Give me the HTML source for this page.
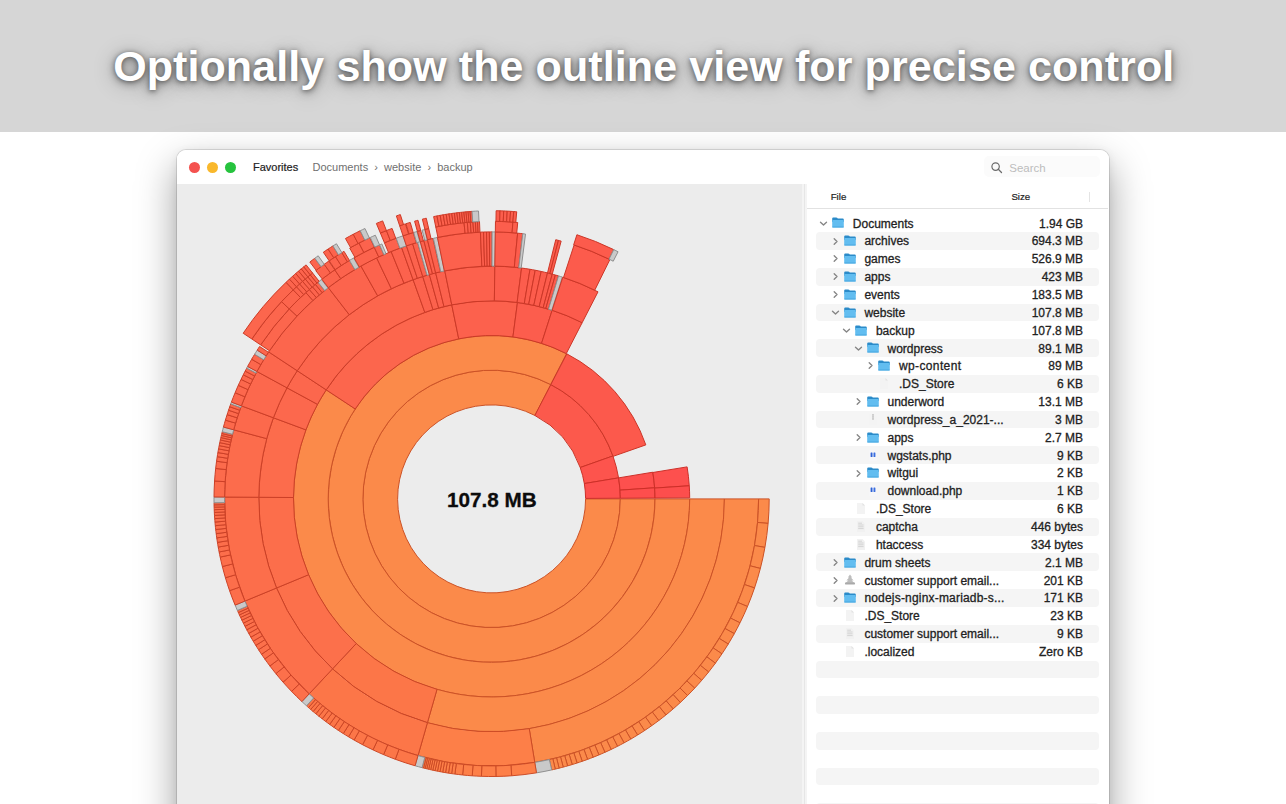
<!DOCTYPE html>
<html><head><meta charset="utf-8"><title>Outline view</title>
<style>
*{box-sizing:border-box}
html,body{margin:0;padding:0}
body{width:1286px;height:804px;overflow:hidden;background:#fff;position:relative;font-family:"Liberation Sans",sans-serif}
.band{position:absolute;left:0;top:0;width:1286px;height:131.6px;background:#d6d6d6}
.headline{position:absolute;left:0;top:0;width:1286px;height:131px;text-align:center;font-weight:bold;font-size:43px;line-height:43px;color:#fff;white-space:nowrap;padding-top:45.3px;padding-left:1.5px;letter-spacing:.1px;text-shadow:0 1px 4px rgba(0,0,0,.38),0 2px 10px rgba(0,0,0,.45),0 3px 22px rgba(0,0,0,.3)}
.win{position:absolute;left:177px;top:150px;width:931.5px;height:700px;border-radius:9px;background:#fff;overflow:hidden;box-shadow:0 0 0 1px rgba(0,0,0,.11),0 2px 10px rgba(0,0,0,.08),0 17px 38px 2px rgba(0,0,0,.35)}
.tb{position:absolute;left:0;top:0;right:0;height:34px;background:#fff}
.tl{position:absolute;top:11.5px;width:11px;height:11px;border-radius:50%}
.t1{left:11.7px;background:#f4524f}.t2{left:29.6px;background:#f9b82c}.t3{left:47.5px;background:#26c33e}
.tbt{position:absolute;top:10px;font-size:11px;line-height:14px;white-space:nowrap}
.chart{position:absolute;left:0;top:34px;width:625px;bottom:0;background:#ececec}
.split{position:absolute;left:625px;top:34px;width:4.8px;bottom:0;background:#f4f4f4}
.split i{position:absolute;left:2.4px;top:0;bottom:0;width:1px;background:#e6e6e6}
.side{position:absolute;left:629.8px;top:34px;right:0;bottom:0;background:#fff}
.sun{position:absolute;left:0;top:0}
.center{position:absolute;left:391.9px;top:487.8px;width:200px;text-align:center;font-weight:bold;font-size:20.7px;line-height:24px;color:#0c0c0c;-webkit-text-stroke:.3px #0c0c0c}
.hdr{position:absolute;left:807px;top:184px;width:301px;height:25px;border-bottom:1px solid #e2e2e2}
.hdr span{position:absolute;top:5.7px;font-size:9.7px;line-height:13px;color:#222;-webkit-text-stroke:.2px #222}
.row{position:absolute;left:816px;width:283px;height:17.85px;border-radius:4px}
.row.alt{background:#f5f5f5}
.row .n{position:absolute;top:2.3px;font-size:12px;line-height:14px;color:#222;white-space:nowrap;-webkit-text-stroke:.3px #222}
.row .s{position:absolute;right:16px;top:2.3px;font-size:12px;line-height:14px;color:#222;white-space:nowrap;-webkit-text-stroke:.3px #222}
.ic{position:absolute;top:3.2px;width:12px;height:11px}
.ch{position:absolute;top:4.4px;width:9px;height:9px}
</style></head><body>
<div class="band"></div>
<div class="headline">Optionally show the outline view for precise control</div>
<div class="win">
 <div class="chart"></div>
 <div class="split"><i></i></div>
 <div class="side"></div>
 <div class="tb">
  <div class="tl t1"></div><div class="tl t2"></div><div class="tl t3"></div>
  <div class="tbt" style="left:76px;color:#222;-webkit-text-stroke:.2px #222">Favorites</div>
  <div class="tbt" style="left:135.5px;color:#6f6f6f">Documents&nbsp; ›&nbsp; website&nbsp; ›&nbsp; backup</div>
  <div style="position:absolute;left:807px;top:6px;width:116px;height:21px;border-radius:5px;background:#fbfbfb"></div><svg style="position:absolute;left:813px;top:10.5px;width:14px;height:14px" viewBox="0 0 14 14"><circle cx="5.6" cy="5.6" r="3.7" fill="none" stroke="#6b6b6b" stroke-width="1.2"/><path d="M8.3 8.3L11.5 11.5" stroke="#6b6b6b" stroke-width="1.3" stroke-linecap="round"/></svg><div class="tbt" style="left:832.3px;top:10.5px;color:#bdbdbd;font-size:11.5px">Search</div>
 </div>
</div>
<svg class="sun" width="1286" height="804" viewBox="0 0 1286 804"><g stroke-width="1" stroke-linejoin="round"><path d="M585.60 498.90L620.30 498.90A128.70 128.70 0 1 1 550.83 384.64L534.86 415.45A94.00 94.00 0 1 0 585.60 498.90Z" fill="#fb8a4a" stroke="#cc5226"/><path d="M534.86 415.45L550.83 384.64A128.70 128.70 0 0 1 612.92 455.94L580.21 467.52A94.00 94.00 0 0 0 534.86 415.45Z" fill="#fc594c" stroke="#cc3527"/><path d="M580.21 467.52L612.92 455.94A128.70 128.70 0 0 1 618.57 477.88L584.34 483.55A94.00 94.00 0 0 0 580.21 467.52Z" fill="#fd544d" stroke="#cd3227"/><path d="M584.34 483.55L618.57 477.88A128.70 128.70 0 0 1 620.30 498.23L585.60 498.41A94.00 94.00 0 0 0 584.34 483.55Z" fill="#fd504e" stroke="#cd2f28"/><path d="M620.30 498.90L655.00 498.90A163.40 163.40 0 1 1 566.54 353.70L550.63 384.53A128.70 128.70 0 1 0 620.30 498.90Z" fill="#fb8a4a" stroke="#cc5226"/><path d="M550.83 384.64L566.80 353.83A163.40 163.40 0 0 1 645.82 444.89L613.07 456.36A128.70 128.70 0 0 0 550.83 384.64Z" fill="#fc594c" stroke="#cc3527"/><path d="M618.57 477.88L652.81 472.21A163.40 163.40 0 0 1 654.62 487.79L620.00 490.15A128.70 128.70 0 0 0 618.57 477.88Z" fill="#fd504e" stroke="#cd2f28"/><path d="M620.00 490.15L654.62 487.79A163.40 163.40 0 0 1 655.00 498.04L620.30 498.23A128.70 128.70 0 0 0 620.00 490.15Z" fill="#fd4e4d" stroke="#cd2e27"/><path d="M655.00 498.90L689.70 498.90A198.10 198.10 0 1 1 326.22 389.85L355.19 408.95A163.40 163.40 0 1 0 655.00 498.90Z" fill="#fb8a4a" stroke="#cc5226"/><path d="M355.19 408.95L326.22 389.85A198.10 198.10 0 0 1 451.77 304.85L458.74 338.84A163.40 163.40 0 0 0 355.19 408.95Z" fill="#fc664d" stroke="#cc3c27"/><path d="M458.74 338.84L451.77 304.85A198.10 198.10 0 0 1 517.46 302.49L512.93 336.90A163.40 163.40 0 0 0 458.74 338.84Z" fill="#fc614d" stroke="#cc3927"/><path d="M512.93 336.90L517.46 302.49A198.10 198.10 0 0 1 552.16 310.28L541.55 343.32A163.40 163.40 0 0 0 512.93 336.90Z" fill="#fc5d4d" stroke="#cc3727"/><path d="M541.55 343.32L552.16 310.28A198.10 198.10 0 0 1 582.15 322.71L566.29 353.57A163.40 163.40 0 0 0 541.55 343.32Z" fill="#fc5b4c" stroke="#cc3627"/><path d="M652.85 472.49L687.10 466.89A198.10 198.10 0 0 1 689.26 485.77L654.64 488.07A163.40 163.40 0 0 0 652.85 472.49Z" fill="#fd504e" stroke="#cd2f28"/><path d="M654.64 488.07L689.26 485.77A198.10 198.10 0 0 1 689.70 497.86L655.00 498.04A163.40 163.40 0 0 0 654.64 488.07Z" fill="#fd4e4d" stroke="#cd2e27"/><path d="M689.70 498.90L724.40 498.90A232.80 232.80 0 0 1 427.43 722.68L437.00 689.33A198.10 198.10 0 0 0 689.70 498.90Z" fill="#fb8a4a" stroke="#cc5226"/><path d="M437.00 689.33L427.43 722.68A232.80 232.80 0 0 1 332.53 668.88L356.24 643.55A198.10 198.10 0 0 0 437.00 689.33Z" fill="#fc7648" stroke="#cc4625"/><path d="M356.24 643.55L332.53 668.88A232.80 232.80 0 0 1 276.52 587.99L308.58 574.71A198.10 198.10 0 0 0 356.24 643.55Z" fill="#fc704b" stroke="#cc4226"/><path d="M308.58 574.71L276.52 587.99A232.80 232.80 0 0 1 258.81 497.27L293.50 497.52A198.10 198.10 0 0 0 308.58 574.71Z" fill="#fc6e4b" stroke="#cc4126"/><path d="M293.50 497.52L258.81 497.27A232.80 232.80 0 0 1 273.40 417.75L305.92 429.85A198.10 198.10 0 0 0 293.50 497.52Z" fill="#fc6c4c" stroke="#cc4027"/><path d="M305.92 429.85L273.40 417.75A232.80 232.80 0 0 1 287.01 387.82L317.51 404.37A198.10 198.10 0 0 0 305.92 429.85Z" fill="#fc684d" stroke="#cc3e27"/><path d="M317.51 404.37L287.01 387.82A232.80 232.80 0 0 1 297.25 370.75L326.22 389.85A198.10 198.10 0 0 0 317.51 404.37Z" fill="#fc674d" stroke="#cc3d27"/><path d="M326.22 389.85L297.25 370.75A232.80 232.80 0 0 1 413.12 279.73L424.82 312.39A198.10 198.10 0 0 0 326.22 389.85Z" fill="#fc664d" stroke="#cc3c27"/><path d="M424.82 312.39L413.12 279.73A232.80 232.80 0 0 1 422.76 276.51L433.02 309.66A198.10 198.10 0 0 0 424.82 312.39Z" fill="#fc624d" stroke="#cc3a27"/><path d="M433.02 309.66L422.76 276.51A232.80 232.80 0 0 1 429.39 274.57L438.66 308.00A198.10 198.10 0 0 0 433.02 309.66Z" fill="#fc624d" stroke="#cc3a27"/><path d="M438.66 308.00L429.39 274.57A232.80 232.80 0 0 1 435.67 272.92L444.01 306.60A198.10 198.10 0 0 0 438.66 308.00Z" fill="#fc614d" stroke="#cc3927"/><path d="M444.01 306.60L435.67 272.92A232.80 232.80 0 0 1 444.79 270.85L451.77 304.85A198.10 198.10 0 0 0 444.01 306.60Z" fill="#fc614d" stroke="#cc3927"/><path d="M451.77 304.85L444.79 270.85A232.80 232.80 0 0 1 494.85 266.12L494.37 300.82A198.10 198.10 0 0 0 451.77 304.85Z" fill="#fc614d" stroke="#cc3927"/><path d="M494.37 300.82L494.85 266.12A232.80 232.80 0 0 1 521.58 268.04L517.11 302.45A198.10 198.10 0 0 0 494.37 300.82Z" fill="#fc5e4d" stroke="#cc3827"/><path d="M517.11 302.45L521.58 268.04A232.80 232.80 0 0 1 530.02 269.29L524.30 303.52A198.10 198.10 0 0 0 517.11 302.45Z" fill="#fc5d4d" stroke="#cc3727"/><path d="M524.30 303.52L530.02 269.29A232.80 232.80 0 0 1 535.22 270.22L528.72 304.31A198.10 198.10 0 0 0 524.30 303.52Z" fill="#fc5d4c" stroke="#cc3727"/><path d="M528.72 304.31L535.22 270.22A232.80 232.80 0 0 1 541.19 271.44L533.80 305.35A198.10 198.10 0 0 0 528.72 304.31Z" fill="#fc5c4c" stroke="#cc3627"/><path d="M533.80 305.35L541.19 271.44A232.80 232.80 0 0 1 547.53 272.92L539.19 306.60A198.10 198.10 0 0 0 533.80 305.35Z" fill="#fc5c4c" stroke="#cc3627"/><path d="M539.19 306.60L547.53 272.92A232.80 232.80 0 0 1 552.25 274.14L543.21 307.64A198.10 198.10 0 0 0 539.19 306.60Z" fill="#fc5c4c" stroke="#cc3627"/><path d="M543.21 307.64L552.25 274.14A232.80 232.80 0 0 1 555.38 275.01L545.87 308.38A198.10 198.10 0 0 0 543.21 307.64Z" fill="#fc5c4c" stroke="#cc3627"/><path d="M545.87 308.38L555.38 275.01A232.80 232.80 0 0 1 558.50 275.92L548.53 309.16A198.10 198.10 0 0 0 545.87 308.38Z" fill="#fc5b4c" stroke="#cc3627"/><path d="M548.53 309.16L558.50 275.92A232.80 232.80 0 0 1 562.38 277.12L551.83 310.18A198.10 198.10 0 0 0 548.53 309.16Z" fill="#c9c9c9" stroke="#8f8f8f"/><path d="M552.16 310.28L562.77 277.24A232.80 232.80 0 0 1 598.01 291.84L582.15 322.71A198.10 198.10 0 0 0 552.16 310.28Z" fill="#fc5b4c" stroke="#cc3627"/><path d="M724.40 498.90L758.60 498.90A267.00 267.00 0 0 1 534.75 762.39L529.22 728.64A232.80 232.80 0 0 0 724.40 498.90Z" fill="#fb8a4a" stroke="#cc5226"/><path d="M529.22 728.64L534.75 762.39A267.00 267.00 0 0 1 418.00 755.56L427.43 722.68A232.80 232.80 0 0 0 529.22 728.64Z" fill="#fd7f48" stroke="#cd4b25"/><path d="M427.43 722.68L418.00 755.56A267.00 267.00 0 0 1 309.17 693.85L332.53 668.88A232.80 232.80 0 0 0 427.43 722.68Z" fill="#fc7648" stroke="#cc4625"/><path d="M332.53 668.88L309.17 693.85A267.00 267.00 0 0 1 244.92 601.08L276.52 587.99A232.80 232.80 0 0 0 332.53 668.88Z" fill="#fc704b" stroke="#cc4226"/><path d="M276.52 587.99L244.92 601.08A267.00 267.00 0 0 1 224.61 497.04L258.81 497.27A232.80 232.80 0 0 0 276.52 587.99Z" fill="#fc6e4b" stroke="#cc4126"/><path d="M258.81 497.27L224.61 497.04A267.00 267.00 0 0 1 233.70 429.80L266.73 438.65A232.80 232.80 0 0 0 258.81 497.27Z" fill="#fc6c4c" stroke="#cc4027"/><path d="M266.73 438.65L233.70 429.80A267.00 267.00 0 0 1 241.35 405.83L273.40 417.75A232.80 232.80 0 0 0 266.73 438.65Z" fill="#fc694c" stroke="#cc3e27"/><path d="M273.40 417.75L241.35 405.83A267.00 267.00 0 0 1 256.96 371.50L287.01 387.82A232.80 232.80 0 0 0 273.40 417.75Z" fill="#fc684d" stroke="#cc3e27"/><path d="M287.01 387.82L256.96 371.50A267.00 267.00 0 0 1 268.70 351.92L297.25 370.75A232.80 232.80 0 0 0 287.01 387.82Z" fill="#fc674d" stroke="#cc3d27"/><path d="M297.25 370.75L268.70 351.92A267.00 267.00 0 0 1 328.32 287.64L349.24 314.70A232.80 232.80 0 0 0 297.25 370.75Z" fill="#fc664d" stroke="#cc3c27"/><path d="M349.24 314.70L328.32 287.64A267.00 267.00 0 0 1 360.93 266.06L377.67 295.88A232.80 232.80 0 0 0 349.24 314.70Z" fill="#fc644d" stroke="#cc3b27"/><path d="M377.67 295.88L360.93 266.06A267.00 267.00 0 0 1 376.65 257.91L391.38 288.78A232.80 232.80 0 0 0 377.67 295.88Z" fill="#fc634d" stroke="#cc3b27"/><path d="M391.38 288.78L376.65 257.91A267.00 267.00 0 0 1 391.15 251.52L404.01 283.20A232.80 232.80 0 0 0 391.38 288.78Z" fill="#fc624d" stroke="#cc3a27"/><path d="M404.01 283.20L391.15 251.52A267.00 267.00 0 0 1 401.60 247.53L413.12 279.73A232.80 232.80 0 0 0 404.01 283.20Z" fill="#fc624d" stroke="#cc3a27"/><path d="M413.12 279.73L401.60 247.53A267.00 267.00 0 0 1 406.44 245.85L417.35 278.26A232.80 232.80 0 0 0 413.12 279.73Z" fill="#fc624d" stroke="#cc3a27"/><path d="M417.35 278.26L406.44 245.85A267.00 267.00 0 0 1 412.65 243.84L422.76 276.51A232.80 232.80 0 0 0 417.35 278.26Z" fill="#fc624d" stroke="#cc3a27"/><path d="M422.76 276.51L412.65 243.84A267.00 267.00 0 0 1 417.56 242.37L427.04 275.23A232.80 232.80 0 0 0 422.76 276.51Z" fill="#fc624d" stroke="#cc3a27"/><path d="M427.04 275.23L417.56 242.37A267.00 267.00 0 0 1 420.25 241.61L429.39 274.57A232.80 232.80 0 0 0 427.04 275.23Z" fill="#c9c9c9" stroke="#8f8f8f"/><path d="M429.39 274.57L420.25 241.61A267.00 267.00 0 0 1 423.85 240.64L432.53 273.72A232.80 232.80 0 0 0 429.39 274.57Z" fill="#fc614d" stroke="#cc3927"/><path d="M432.53 273.72L423.85 240.64A267.00 267.00 0 0 1 427.46 239.72L435.67 272.92A232.80 232.80 0 0 0 432.53 273.72Z" fill="#fc614d" stroke="#cc3927"/><path d="M435.67 272.92L427.46 239.72A267.00 267.00 0 0 1 432.90 238.43L440.42 271.80A232.80 232.80 0 0 0 435.67 272.92Z" fill="#fc614d" stroke="#cc3927"/><path d="M440.82 271.71L433.36 238.33A267.00 267.00 0 0 1 437.46 237.45L444.39 270.94A232.80 232.80 0 0 0 440.82 271.71Z" fill="#c9c9c9" stroke="#8f8f8f"/><path d="M444.39 270.94L437.46 237.45A267.00 267.00 0 0 1 480.42 232.13L481.85 266.30A232.80 232.80 0 0 0 444.39 270.94Z" fill="#fc614d" stroke="#cc3927"/><path d="M481.85 266.30L480.42 232.13A267.00 267.00 0 0 1 483.56 232.02L484.59 266.21A232.80 232.80 0 0 0 481.85 266.30Z" fill="#fc5f4d" stroke="#cc3827"/><path d="M484.59 266.21L483.56 232.02A267.00 267.00 0 0 1 486.54 231.95L487.19 266.14A232.80 232.80 0 0 0 484.59 266.21Z" fill="#fc5f4d" stroke="#cc3827"/><path d="M487.19 266.14L486.54 231.95A267.00 267.00 0 0 1 489.37 231.91L489.66 266.11A232.80 232.80 0 0 0 487.19 266.14Z" fill="#fc5f4d" stroke="#cc3827"/><path d="M489.66 266.11L489.37 231.91A267.00 267.00 0 0 1 492.07 231.90L492.01 266.10A232.80 232.80 0 0 0 489.66 266.11Z" fill="#fc5f4d" stroke="#cc3827"/><path d="M492.01 266.10L492.07 231.90A267.00 267.00 0 0 1 495.33 231.93L494.85 266.12A232.80 232.80 0 0 0 492.01 266.10Z" fill="#c9c9c9" stroke="#8f8f8f"/><path d="M494.85 266.12L495.33 231.93A267.00 267.00 0 0 1 517.65 233.17L514.32 267.21A232.80 232.80 0 0 0 494.85 266.12Z" fill="#fc5e4d" stroke="#cc3827"/><path d="M514.32 267.21L517.65 233.17A267.00 267.00 0 0 1 522.75 233.72L518.76 267.69A232.80 232.80 0 0 0 514.32 267.21Z" fill="#fc5d4d" stroke="#cc3727"/><path d="M518.76 267.69L522.75 233.72A267.00 267.00 0 0 1 525.53 234.06L521.18 267.99A232.80 232.80 0 0 0 518.76 267.69Z" fill="#c9c9c9" stroke="#8f8f8f"/><path d="M547.53 272.92L555.74 239.72A267.00 267.00 0 0 1 558.45 240.40L549.89 273.52A232.80 232.80 0 0 0 547.53 272.92Z" fill="#fc5c4c" stroke="#cc3627"/><path d="M549.89 273.52L558.45 240.40A267.00 267.00 0 0 1 561.15 241.12L552.25 274.14A232.80 232.80 0 0 0 549.89 273.52Z" fill="#fc5c4c" stroke="#cc3627"/><path d="M563.54 277.49L574.11 244.97A267.00 267.00 0 0 1 609.90 259.54L594.75 290.20A232.80 232.80 0 0 0 563.54 277.49Z" fill="#fc5b4c" stroke="#cc3627"/><path d="M758.60 498.90L769.20 498.90A277.60 277.60 0 0 1 768.12 523.38L757.56 522.45A267.00 267.00 0 0 0 758.60 498.90Z" fill="#fb8a4a" stroke="#cc5226"/><path d="M757.56 522.45L768.12 523.38A277.60 277.60 0 0 1 764.93 547.39L754.49 545.54A267.00 267.00 0 0 0 757.56 522.45Z" fill="#fb8a4a" stroke="#cc5226"/><path d="M754.49 545.54L764.93 547.39A277.60 277.60 0 0 1 760.35 568.45L750.08 565.80A267.00 267.00 0 0 0 754.49 545.54Z" fill="#fb8a4a" stroke="#cc5226"/><path d="M750.08 565.80L760.35 568.45A277.60 277.60 0 0 1 754.53 587.95L744.49 584.55A267.00 267.00 0 0 0 750.08 565.80Z" fill="#fb8a4a" stroke="#cc5226"/><path d="M744.49 584.55L754.53 587.95A277.60 277.60 0 0 1 747.49 606.52L737.72 602.41A267.00 267.00 0 0 0 744.49 584.55Z" fill="#fb8a4a" stroke="#cc5226"/><path d="M737.72 602.41L747.49 606.52A277.60 277.60 0 0 1 740.01 622.81L730.53 618.08A267.00 267.00 0 0 0 737.72 602.41Z" fill="#fb8a4a" stroke="#cc5226"/><path d="M730.53 618.08L740.01 622.81A277.60 277.60 0 0 1 734.30 633.65L725.03 628.51A267.00 267.00 0 0 0 730.53 618.08Z" fill="#fb8a4a" stroke="#cc5226"/><path d="M725.03 628.51L734.30 633.65A277.60 277.60 0 0 1 728.26 644.00L719.23 638.45A267.00 267.00 0 0 0 725.03 628.51Z" fill="#fb8a4a" stroke="#cc5226"/><path d="M719.23 638.45L728.26 644.00A277.60 277.60 0 0 1 721.95 653.83L713.15 647.91A267.00 267.00 0 0 0 719.23 638.45Z" fill="#fb8a4a" stroke="#cc5226"/><path d="M713.15 647.91L721.95 653.83A277.60 277.60 0 0 1 715.39 663.16L706.84 656.88A267.00 267.00 0 0 0 713.15 647.91Z" fill="#fb8a4a" stroke="#cc5226"/><path d="M706.84 656.88L715.39 663.16A277.60 277.60 0 0 1 708.63 671.98L700.35 665.37A267.00 267.00 0 0 0 706.84 656.88Z" fill="#fb8a4a" stroke="#cc5226"/><path d="M700.35 665.37L708.63 671.98A277.60 277.60 0 0 1 701.72 680.32L693.70 673.39A267.00 267.00 0 0 0 700.35 665.37Z" fill="#fb8a4a" stroke="#cc5226"/><path d="M693.70 673.39L701.72 680.32A277.60 277.60 0 0 1 694.68 688.16L686.92 680.94A267.00 267.00 0 0 0 693.70 673.39Z" fill="#fb8a4a" stroke="#cc5226"/><path d="M686.92 680.94L694.68 688.16A277.60 277.60 0 0 1 687.55 695.54L680.06 688.03A267.00 267.00 0 0 0 686.92 680.94Z" fill="#fb8a4a" stroke="#cc5226"/><path d="M680.06 688.03L687.55 695.54A277.60 277.60 0 0 1 680.36 702.45L673.15 694.68A267.00 267.00 0 0 0 680.06 688.03Z" fill="#fb8a4a" stroke="#cc5226"/><path d="M673.15 694.68L680.36 702.45A277.60 277.60 0 0 1 673.14 708.91L666.21 700.89A267.00 267.00 0 0 0 673.15 694.68Z" fill="#fb8a4a" stroke="#cc5226"/><path d="M666.21 700.89L673.14 708.91A277.60 277.60 0 0 1 665.93 714.93L659.27 706.69A267.00 267.00 0 0 0 666.21 700.89Z" fill="#fb8a4a" stroke="#cc5226"/><path d="M659.27 706.69L665.93 714.93A277.60 277.60 0 0 1 658.74 720.54L652.36 712.08A267.00 267.00 0 0 0 659.27 706.69Z" fill="#fb8a4a" stroke="#cc5226"/><path d="M652.36 712.08L658.74 720.54A277.60 277.60 0 0 1 651.61 725.74L645.50 717.08A267.00 267.00 0 0 0 652.36 712.08Z" fill="#fb8a4a" stroke="#cc5226"/><path d="M645.50 717.08L651.61 725.74A277.60 277.60 0 0 1 644.56 730.56L638.72 721.71A267.00 267.00 0 0 0 645.50 717.08Z" fill="#fb8a4a" stroke="#cc5226"/><path d="M638.72 721.71L644.56 730.56A277.60 277.60 0 0 1 637.60 735.00L632.03 725.99A267.00 267.00 0 0 0 638.72 721.71Z" fill="#fb8a4a" stroke="#cc5226"/><path d="M632.03 725.99L637.60 735.00A277.60 277.60 0 0 1 630.77 739.10L625.45 729.93A267.00 267.00 0 0 0 632.03 725.99Z" fill="#fb8a4a" stroke="#cc5226"/><path d="M625.45 729.93L630.77 739.10A277.60 277.60 0 0 1 624.06 742.86L619.01 733.54A267.00 267.00 0 0 0 625.45 729.93Z" fill="#fb8a4a" stroke="#cc5226"/><path d="M619.01 733.54L624.06 742.86A277.60 277.60 0 0 1 617.52 746.30L612.71 736.85A267.00 267.00 0 0 0 619.01 733.54Z" fill="#fb8a4a" stroke="#cc5226"/><path d="M612.71 736.85L617.52 746.30A277.60 277.60 0 0 1 611.14 749.44L606.58 739.88A267.00 267.00 0 0 0 612.71 736.85Z" fill="#fb8a4a" stroke="#cc5226"/><path d="M606.58 739.88L611.14 749.44A277.60 277.60 0 0 1 604.94 752.31L600.62 742.63A267.00 267.00 0 0 0 606.58 739.88Z" fill="#fb8a4a" stroke="#cc5226"/><path d="M600.62 742.63L604.94 752.31A277.60 277.60 0 0 1 598.94 754.91L594.85 745.13A267.00 267.00 0 0 0 600.62 742.63Z" fill="#fb8a4a" stroke="#cc5226"/><path d="M594.85 745.13L598.94 754.91A277.60 277.60 0 0 1 593.15 757.26L589.27 747.39A267.00 267.00 0 0 0 594.85 745.13Z" fill="#fb8a4a" stroke="#cc5226"/><path d="M589.27 747.39L593.15 757.26A277.60 277.60 0 0 1 587.58 759.38L583.91 749.43A267.00 267.00 0 0 0 589.27 747.39Z" fill="#fb8a4a" stroke="#cc5226"/><path d="M583.91 749.43L587.58 759.38A277.60 277.60 0 0 1 582.23 761.29L578.76 751.27A267.00 267.00 0 0 0 583.91 749.43Z" fill="#fb8a4a" stroke="#cc5226"/><path d="M578.76 751.27L582.23 761.29A277.60 277.60 0 0 1 577.11 763.00L573.84 752.92A267.00 267.00 0 0 0 578.76 751.27Z" fill="#fb8a4a" stroke="#cc5226"/><path d="M573.84 752.92L577.11 763.00A277.60 277.60 0 0 1 572.24 764.53L569.16 754.39A267.00 267.00 0 0 0 573.84 752.92Z" fill="#fb8a4a" stroke="#cc5226"/><path d="M569.16 754.39L572.24 764.53A277.60 277.60 0 0 1 567.61 765.89L564.71 755.70A267.00 267.00 0 0 0 569.16 754.39Z" fill="#fb8a4a" stroke="#cc5226"/><path d="M564.71 755.70L567.61 765.89A277.60 277.60 0 0 1 563.24 767.10L560.50 756.86A267.00 267.00 0 0 0 564.71 755.70Z" fill="#fb8a4a" stroke="#cc5226"/><path d="M560.50 756.86L563.24 767.10A277.60 277.60 0 0 1 559.12 768.16L556.54 757.88A267.00 267.00 0 0 0 560.50 756.86Z" fill="#fb8a4a" stroke="#cc5226"/><path d="M556.54 757.88L559.12 768.16A277.60 277.60 0 0 1 555.27 769.10L552.84 758.78A267.00 267.00 0 0 0 556.54 757.88Z" fill="#fb8a4a" stroke="#cc5226"/><path d="M552.84 758.78L555.27 769.10A277.60 277.60 0 0 1 551.68 769.92L549.39 759.57A267.00 267.00 0 0 0 552.84 758.78Z" fill="#fb8a4a" stroke="#cc5226"/><path d="M549.39 759.57L551.68 769.92A277.60 277.60 0 0 1 536.46 772.85L534.75 762.39A267.00 267.00 0 0 0 549.39 759.57Z" fill="#c9c9c9" stroke="#8f8f8f"/><path d="M534.75 762.39L536.46 772.85A277.60 277.60 0 0 1 511.69 775.77L510.92 765.20A267.00 267.00 0 0 0 534.75 762.39Z" fill="#fd7f48" stroke="#cd4b25"/><path d="M510.92 765.20L511.69 775.77A277.60 277.60 0 0 1 495.96 776.47L495.79 765.87A267.00 267.00 0 0 0 510.92 765.20Z" fill="#fd7f48" stroke="#cd4b25"/><path d="M495.79 765.87L495.96 776.47A277.60 277.60 0 0 1 481.43 776.31L481.82 765.72A267.00 267.00 0 0 0 495.79 765.87Z" fill="#fd7f48" stroke="#cd4b25"/><path d="M481.82 765.72L481.43 776.31A277.60 277.60 0 0 1 472.24 775.82L472.98 765.25A267.00 267.00 0 0 0 481.82 765.72Z" fill="#fd7f48" stroke="#cd4b25"/><path d="M472.98 765.25L472.24 775.82A277.60 277.60 0 0 1 462.58 774.98L463.69 764.44A267.00 267.00 0 0 0 472.98 765.25Z" fill="#fd7f48" stroke="#cd4b25"/><path d="M463.69 764.44L462.58 774.98A277.60 277.60 0 0 1 454.89 774.06L456.29 763.55A267.00 267.00 0 0 0 463.69 764.44Z" fill="#fd7f48" stroke="#cd4b25"/><path d="M456.29 763.55L454.89 774.06A277.60 277.60 0 0 1 451.62 773.61L453.15 763.12A267.00 267.00 0 0 0 456.29 763.55Z" fill="#fd7f48" stroke="#cd4b25"/><path d="M453.15 763.12L451.62 773.61A277.60 277.60 0 0 1 448.50 773.13L450.15 762.66A267.00 267.00 0 0 0 453.15 763.12Z" fill="#fd7f48" stroke="#cd4b25"/><path d="M450.15 762.66L448.50 773.13A277.60 277.60 0 0 1 445.53 772.65L447.29 762.20A267.00 267.00 0 0 0 450.15 762.66Z" fill="#fd7f48" stroke="#cd4b25"/><path d="M447.29 762.20L445.53 772.65A277.60 277.60 0 0 1 442.70 772.16L444.56 761.72A267.00 267.00 0 0 0 447.29 762.20Z" fill="#fd7f48" stroke="#cd4b25"/><path d="M444.56 761.72L442.70 772.16A277.60 277.60 0 0 1 440.00 771.66L441.97 761.25A267.00 267.00 0 0 0 444.56 761.72Z" fill="#fd7f48" stroke="#cd4b25"/><path d="M441.97 761.25L440.00 771.66A277.60 277.60 0 0 1 437.46 771.17L439.52 760.77A267.00 267.00 0 0 0 441.97 761.25Z" fill="#fd7f48" stroke="#cd4b25"/><path d="M439.52 760.77L437.46 771.17A277.60 277.60 0 0 1 435.05 770.68L437.21 760.30A267.00 267.00 0 0 0 439.52 760.77Z" fill="#fd7f48" stroke="#cd4b25"/><path d="M437.21 760.30L435.05 770.68A277.60 277.60 0 0 1 432.78 770.20L435.03 759.84A267.00 267.00 0 0 0 437.21 760.30Z" fill="#fd7f48" stroke="#cd4b25"/><path d="M435.03 759.84L432.78 770.20A277.60 277.60 0 0 1 430.65 769.73L432.98 759.39A267.00 267.00 0 0 0 435.03 759.84Z" fill="#fd7f48" stroke="#cd4b25"/><path d="M432.98 759.39L430.65 769.73A277.60 277.60 0 0 1 428.66 769.27L431.07 758.95A267.00 267.00 0 0 0 432.98 759.39Z" fill="#fd7f48" stroke="#cd4b25"/><path d="M431.07 758.95L428.66 769.27A277.60 277.60 0 0 1 426.81 768.83L429.29 758.53A267.00 267.00 0 0 0 431.07 758.95Z" fill="#fd7f48" stroke="#cd4b25"/><path d="M429.29 758.53L426.81 768.83A277.60 277.60 0 0 1 425.10 768.42L427.64 758.13A267.00 267.00 0 0 0 429.29 758.53Z" fill="#fd7f48" stroke="#cd4b25"/><path d="M427.64 758.13L425.10 768.42A277.60 277.60 0 0 1 423.53 768.03L426.13 757.75A267.00 267.00 0 0 0 427.64 758.13Z" fill="#fd7f48" stroke="#cd4b25"/><path d="M426.13 757.75L423.53 768.03A277.60 277.60 0 0 1 422.09 767.66L424.75 757.40A267.00 267.00 0 0 0 426.13 757.75Z" fill="#fd7f48" stroke="#cd4b25"/><path d="M424.75 757.40L422.09 767.66A277.60 277.60 0 0 1 415.08 765.75L418.00 755.56A267.00 267.00 0 0 0 424.75 757.40Z" fill="#c9c9c9" stroke="#8f8f8f"/><path d="M418.00 755.56L415.08 765.75A277.60 277.60 0 0 1 395.29 759.26L398.97 749.32A267.00 267.00 0 0 0 418.00 755.56Z" fill="#fc7648" stroke="#cc4625"/><path d="M398.97 749.32L395.29 759.26A277.60 277.60 0 0 1 383.58 754.62L387.70 744.86A267.00 267.00 0 0 0 398.97 749.32Z" fill="#fc7648" stroke="#cc4625"/><path d="M387.70 744.86L383.58 754.62A277.60 277.60 0 0 1 372.97 749.87L377.50 740.29A267.00 267.00 0 0 0 387.70 744.86Z" fill="#fc7648" stroke="#cc4625"/><path d="M377.50 740.29L372.97 749.87A277.60 277.60 0 0 1 362.56 744.69L367.49 735.30A267.00 267.00 0 0 0 377.50 740.29Z" fill="#fc7648" stroke="#cc4625"/><path d="M367.49 735.30L362.56 744.69A277.60 277.60 0 0 1 354.06 740.03L359.31 730.82A267.00 267.00 0 0 0 367.49 735.30Z" fill="#fc7648" stroke="#cc4625"/><path d="M359.31 730.82L354.06 740.03A277.60 277.60 0 0 1 348.50 736.78L353.97 727.69A267.00 267.00 0 0 0 359.31 730.82Z" fill="#fc7648" stroke="#cc4625"/><path d="M353.97 727.69L348.50 736.78A277.60 277.60 0 0 1 343.29 733.56L348.96 724.60A267.00 267.00 0 0 0 353.97 727.69Z" fill="#fc7648" stroke="#cc4625"/><path d="M348.96 724.60L343.29 733.56A277.60 277.60 0 0 1 338.42 730.41L344.27 721.57A267.00 267.00 0 0 0 348.96 724.60Z" fill="#fc7648" stroke="#cc4625"/><path d="M344.27 721.57L338.42 730.41A277.60 277.60 0 0 1 333.89 727.35L339.91 718.63A267.00 267.00 0 0 0 344.27 721.57Z" fill="#fc7648" stroke="#cc4625"/><path d="M339.91 718.63L333.89 727.35A277.60 277.60 0 0 1 329.67 724.38L335.86 715.77A267.00 267.00 0 0 0 339.91 718.63Z" fill="#fc7648" stroke="#cc4625"/><path d="M335.86 715.77L329.67 724.38A277.60 277.60 0 0 1 325.77 721.53L332.11 713.03A267.00 267.00 0 0 0 335.86 715.77Z" fill="#fc7648" stroke="#cc4625"/><path d="M332.11 713.03L325.77 721.53A277.60 277.60 0 0 1 322.18 718.81L328.65 710.41A267.00 267.00 0 0 0 332.11 713.03Z" fill="#fc7648" stroke="#cc4625"/><path d="M328.65 710.41L322.18 718.81A277.60 277.60 0 0 1 318.88 716.22L325.48 707.93A267.00 267.00 0 0 0 328.65 710.41Z" fill="#fc7648" stroke="#cc4625"/><path d="M325.48 707.93L318.88 716.22A277.60 277.60 0 0 1 315.87 713.80L322.58 705.59A267.00 267.00 0 0 0 325.48 707.93Z" fill="#fc7648" stroke="#cc4625"/><path d="M322.58 705.59L315.87 713.80A277.60 277.60 0 0 1 313.14 711.54L319.96 703.42A267.00 267.00 0 0 0 322.58 705.59Z" fill="#fc7648" stroke="#cc4625"/><path d="M319.96 703.42L313.14 711.54A277.60 277.60 0 0 1 310.69 709.45L317.60 701.41A267.00 267.00 0 0 0 319.96 703.42Z" fill="#fc7648" stroke="#cc4625"/><path d="M317.60 701.41L310.69 709.45A277.60 277.60 0 0 1 308.50 707.55L315.49 699.59A267.00 267.00 0 0 0 317.60 701.41Z" fill="#fc7648" stroke="#cc4625"/><path d="M315.49 699.59L308.50 707.55A277.60 277.60 0 0 1 306.57 705.84L313.64 697.94A267.00 267.00 0 0 0 315.49 699.59Z" fill="#fc7648" stroke="#cc4625"/><path d="M313.64 697.94L306.57 705.84A277.60 277.60 0 0 1 301.92 701.59L309.17 693.85A267.00 267.00 0 0 0 313.64 697.94Z" fill="#c9c9c9" stroke="#8f8f8f"/><path d="M309.17 693.85L301.92 701.59A277.60 277.60 0 0 1 291.58 691.39L299.21 684.04A267.00 267.00 0 0 0 309.17 693.85Z" fill="#fc704b" stroke="#cc4226"/><path d="M299.21 684.04L291.58 691.39A277.60 277.60 0 0 1 283.05 682.12L291.01 675.12A267.00 267.00 0 0 0 299.21 684.04Z" fill="#fc704b" stroke="#cc4226"/><path d="M291.01 675.12L283.05 682.12A277.60 277.60 0 0 1 275.86 673.60L284.10 666.93A267.00 267.00 0 0 0 291.01 675.12Z" fill="#fc704b" stroke="#cc4226"/><path d="M284.10 666.93L275.86 673.60A277.60 277.60 0 0 1 269.90 665.96L278.36 659.58A267.00 267.00 0 0 0 284.10 666.93Z" fill="#fc704b" stroke="#cc4226"/><path d="M278.36 659.58L269.90 665.96A277.60 277.60 0 0 1 264.76 658.92L273.42 652.81A267.00 267.00 0 0 0 278.36 659.58Z" fill="#fc704b" stroke="#cc4226"/><path d="M273.42 652.81L264.76 658.92A277.60 277.60 0 0 1 261.53 654.24L270.32 648.31A267.00 267.00 0 0 0 273.42 652.81Z" fill="#fc704b" stroke="#cc4226"/><path d="M270.32 648.31L261.53 654.24A277.60 277.60 0 0 1 258.54 649.71L267.44 643.96A267.00 267.00 0 0 0 270.32 648.31Z" fill="#fc704b" stroke="#cc4226"/><path d="M267.44 643.96L258.54 649.71A277.60 277.60 0 0 1 255.78 645.36L264.78 639.76A267.00 267.00 0 0 0 267.44 643.96Z" fill="#fc704b" stroke="#cc4226"/><path d="M264.78 639.76L255.78 645.36A277.60 277.60 0 0 1 253.23 641.17L262.33 635.74A267.00 267.00 0 0 0 264.78 639.76Z" fill="#fc704b" stroke="#cc4226"/><path d="M262.33 635.74L253.23 641.17A277.60 277.60 0 0 1 250.89 637.17L260.08 631.89A267.00 267.00 0 0 0 262.33 635.74Z" fill="#fc704b" stroke="#cc4226"/><path d="M260.08 631.89L250.89 637.17A277.60 277.60 0 0 1 248.74 633.36L258.01 628.23A267.00 267.00 0 0 0 260.08 631.89Z" fill="#fc704b" stroke="#cc4226"/><path d="M258.01 628.23L248.74 633.36A277.60 277.60 0 0 1 246.77 629.75L256.12 624.76A267.00 267.00 0 0 0 258.01 628.23Z" fill="#fc704b" stroke="#cc4226"/><path d="M256.12 624.76L246.77 629.75A277.60 277.60 0 0 1 244.98 626.34L254.40 621.48A267.00 267.00 0 0 0 256.12 624.76Z" fill="#fc704b" stroke="#cc4226"/><path d="M254.40 621.48L244.98 626.34A277.60 277.60 0 0 1 243.36 623.15L252.84 618.40A267.00 267.00 0 0 0 254.40 621.48Z" fill="#fc704b" stroke="#cc4226"/><path d="M252.84 618.40L243.36 623.15A277.60 277.60 0 0 1 241.89 620.17L251.42 615.54A267.00 267.00 0 0 0 252.84 618.40Z" fill="#fc704b" stroke="#cc4226"/><path d="M251.42 615.54L241.89 620.17A277.60 277.60 0 0 1 240.57 617.41L250.15 612.88A267.00 267.00 0 0 0 251.42 615.54Z" fill="#fc704b" stroke="#cc4226"/><path d="M250.15 612.88L240.57 617.41A277.60 277.60 0 0 1 239.38 614.87L249.01 610.44A267.00 267.00 0 0 0 250.15 612.88Z" fill="#fc704b" stroke="#cc4226"/><path d="M249.01 610.44L239.38 614.87A277.60 277.60 0 0 1 238.33 612.56L248.01 608.22A267.00 267.00 0 0 0 249.01 610.44Z" fill="#fc704b" stroke="#cc4226"/><path d="M248.01 608.22L238.33 612.56A277.60 277.60 0 0 1 237.41 610.48L247.12 606.22A267.00 267.00 0 0 0 248.01 608.22Z" fill="#fc704b" stroke="#cc4226"/><path d="M247.12 606.22L237.41 610.48A277.60 277.60 0 0 1 235.13 605.13L244.92 601.08A267.00 267.00 0 0 0 247.12 606.22Z" fill="#c9c9c9" stroke="#8f8f8f"/><path d="M244.92 601.08L235.13 605.13A277.60 277.60 0 0 1 229.60 590.65L239.61 587.15A267.00 267.00 0 0 0 244.92 601.08Z" fill="#fc6e4b" stroke="#cc4126"/><path d="M239.61 587.15L229.60 590.65A277.60 277.60 0 0 1 225.43 577.74L235.60 574.73A267.00 267.00 0 0 0 239.61 587.15Z" fill="#fc6e4b" stroke="#cc4126"/><path d="M235.60 574.73L225.43 577.74A277.60 277.60 0 0 1 222.36 566.53L232.64 563.95A267.00 267.00 0 0 0 235.60 574.73Z" fill="#fc6e4b" stroke="#cc4126"/><path d="M232.64 563.95L222.36 566.53A277.60 277.60 0 0 1 220.17 557.09L230.53 554.87A267.00 267.00 0 0 0 232.64 563.95Z" fill="#fc6e4b" stroke="#cc4126"/><path d="M230.53 554.87L220.17 557.09A277.60 277.60 0 0 1 219.12 551.98L229.53 549.95A267.00 267.00 0 0 0 230.53 554.87Z" fill="#fc6e4b" stroke="#cc4126"/><path d="M229.53 549.95L219.12 551.98A277.60 277.60 0 0 1 218.21 547.07L228.65 545.24A267.00 267.00 0 0 0 229.53 549.95Z" fill="#fc6e4b" stroke="#cc4126"/><path d="M228.65 545.24L218.21 547.07A277.60 277.60 0 0 1 217.43 542.37L227.89 540.71A267.00 267.00 0 0 0 228.65 545.24Z" fill="#fc6e4b" stroke="#cc4126"/><path d="M227.89 540.71L217.43 542.37A277.60 277.60 0 0 1 216.75 537.88L227.25 536.39A267.00 267.00 0 0 0 227.89 540.71Z" fill="#fc6e4b" stroke="#cc4126"/><path d="M227.25 536.39L216.75 537.88A277.60 277.60 0 0 1 216.18 533.60L226.69 532.27A267.00 267.00 0 0 0 227.25 536.39Z" fill="#fc6e4b" stroke="#cc4126"/><path d="M226.69 532.27L216.18 533.60A277.60 277.60 0 0 1 215.69 529.53L226.23 528.36A267.00 267.00 0 0 0 226.69 532.27Z" fill="#fc6e4b" stroke="#cc4126"/><path d="M226.23 528.36L215.69 529.53A277.60 277.60 0 0 1 215.29 525.68L225.85 524.65A267.00 267.00 0 0 0 226.23 528.36Z" fill="#fc6e4b" stroke="#cc4126"/><path d="M225.85 524.65L215.29 525.68A277.60 277.60 0 0 1 214.97 522.04L225.53 521.16A267.00 267.00 0 0 0 225.85 524.65Z" fill="#fc6e4b" stroke="#cc4126"/><path d="M225.53 521.16L214.97 522.04A277.60 277.60 0 0 1 214.70 518.63L225.27 517.87A267.00 267.00 0 0 0 225.53 521.16Z" fill="#fc6e4b" stroke="#cc4126"/><path d="M225.27 517.87L214.70 518.63A277.60 277.60 0 0 1 214.49 515.43L225.07 514.80A267.00 267.00 0 0 0 225.27 517.87Z" fill="#fc6e4b" stroke="#cc4126"/><path d="M225.07 514.80L214.49 515.43A277.60 277.60 0 0 1 214.33 512.45L224.92 511.94A267.00 267.00 0 0 0 225.07 514.80Z" fill="#fc6e4b" stroke="#cc4126"/><path d="M224.92 511.94L214.33 512.45A277.60 277.60 0 0 1 214.21 509.70L224.80 509.29A267.00 267.00 0 0 0 224.92 511.94Z" fill="#fc6e4b" stroke="#cc4126"/><path d="M224.80 509.29L214.21 509.70A277.60 277.60 0 0 1 214.12 507.17L224.72 506.85A267.00 267.00 0 0 0 224.80 509.29Z" fill="#fc6e4b" stroke="#cc4126"/><path d="M224.72 506.85L214.12 507.17A277.60 277.60 0 0 1 214.06 504.86L224.66 504.63A267.00 267.00 0 0 0 224.72 506.85Z" fill="#fc6e4b" stroke="#cc4126"/><path d="M224.66 504.63L214.06 504.86A277.60 277.60 0 0 1 214.03 502.78L224.63 502.63A267.00 267.00 0 0 0 224.66 504.63Z" fill="#fc6e4b" stroke="#cc4126"/><path d="M224.63 502.63L214.03 502.78A277.60 277.60 0 0 1 214.01 496.96L224.61 497.04A267.00 267.00 0 0 0 224.63 502.63Z" fill="#c9c9c9" stroke="#8f8f8f"/><path d="M224.61 497.04L214.01 496.96A277.60 277.60 0 0 1 214.58 480.99L225.16 481.67A267.00 267.00 0 0 0 224.61 497.04Z" fill="#fc6c4c" stroke="#cc4027"/><path d="M225.16 481.67L214.58 480.99A277.60 277.60 0 0 1 215.68 468.44L226.21 469.60A267.00 267.00 0 0 0 225.16 481.67Z" fill="#fc6b4c" stroke="#cc3f27"/><path d="M226.21 469.60L215.68 468.44A277.60 277.60 0 0 1 216.57 461.23L227.07 462.66A267.00 267.00 0 0 0 226.21 469.60Z" fill="#fc6b4c" stroke="#cc3f27"/><path d="M227.07 462.66L216.57 461.23A277.60 277.60 0 0 1 217.23 456.66L227.71 458.27A267.00 267.00 0 0 0 227.07 462.66Z" fill="#fc6b4c" stroke="#cc3f27"/><path d="M227.71 458.27L217.23 456.66A277.60 277.60 0 0 1 217.89 452.56L228.35 454.33A267.00 267.00 0 0 0 227.71 458.27Z" fill="#fc6b4c" stroke="#cc3f27"/><path d="M228.35 454.33L217.89 452.56A277.60 277.60 0 0 1 218.54 448.88L228.97 450.79A267.00 267.00 0 0 0 228.35 454.33Z" fill="#fc6b4c" stroke="#cc3f27"/><path d="M228.97 450.79L218.54 448.88A277.60 277.60 0 0 1 219.17 445.58L229.57 447.62A267.00 267.00 0 0 0 228.97 450.79Z" fill="#fc6b4c" stroke="#cc3f27"/><path d="M229.57 447.62L219.17 445.58A277.60 277.60 0 0 1 219.77 442.61L230.15 444.76A267.00 267.00 0 0 0 229.57 447.62Z" fill="#fc6b4c" stroke="#cc3f27"/><path d="M230.15 444.76L219.77 442.61A277.60 277.60 0 0 1 220.33 439.95L230.69 442.20A267.00 267.00 0 0 0 230.15 444.76Z" fill="#fc6b4c" stroke="#cc3f27"/><path d="M230.69 442.20L220.33 439.95A277.60 277.60 0 0 1 220.86 437.56L231.20 439.90A267.00 267.00 0 0 0 230.69 442.20Z" fill="#fc6b4c" stroke="#cc3f27"/><path d="M231.20 439.90L220.86 437.56A277.60 277.60 0 0 1 221.36 435.41L231.68 437.83A267.00 267.00 0 0 0 231.20 439.90Z" fill="#fc6b4c" stroke="#cc3f27"/><path d="M231.68 437.83L221.36 435.41A277.60 277.60 0 0 1 221.82 433.48L232.12 435.98A267.00 267.00 0 0 0 231.68 437.83Z" fill="#fc6b4c" stroke="#cc3f27"/><path d="M232.12 435.98L221.82 433.48A277.60 277.60 0 0 1 222.25 431.74L232.53 434.31A267.00 267.00 0 0 0 232.12 435.98Z" fill="#fc6b4c" stroke="#cc3f27"/><path d="M232.53 434.31L222.25 431.74A277.60 277.60 0 0 1 223.46 427.05L233.70 429.80A267.00 267.00 0 0 0 232.53 434.31Z" fill="#c9c9c9" stroke="#8f8f8f"/><path d="M233.70 429.80L223.46 427.05A277.60 277.60 0 0 1 225.41 420.12L235.58 423.12A267.00 267.00 0 0 0 233.70 429.80Z" fill="#fc694c" stroke="#cc3e27"/><path d="M235.58 423.12L225.41 420.12A277.60 277.60 0 0 1 227.11 414.61L237.21 417.82A267.00 267.00 0 0 0 235.58 423.12Z" fill="#fc694c" stroke="#cc3e27"/><path d="M237.21 417.82L227.11 414.61A277.60 277.60 0 0 1 228.54 410.22L238.59 413.61A267.00 267.00 0 0 0 237.21 417.82Z" fill="#fc694c" stroke="#cc3e27"/><path d="M238.59 413.61L228.54 410.22A277.60 277.60 0 0 1 229.75 406.73L239.75 410.25A267.00 267.00 0 0 0 238.59 413.61Z" fill="#fc694c" stroke="#cc3e27"/><path d="M239.75 410.25L229.75 406.73A277.60 277.60 0 0 1 230.74 403.96L240.70 407.58A267.00 267.00 0 0 0 239.75 410.25Z" fill="#fc694c" stroke="#cc3e27"/><path d="M240.70 407.58L230.74 403.96A277.60 277.60 0 0 1 231.41 402.14L241.35 405.83A267.00 267.00 0 0 0 240.70 407.58Z" fill="#c9c9c9" stroke="#8f8f8f"/><path d="M241.35 405.83L231.41 402.14A277.60 277.60 0 0 1 235.11 392.72L244.90 396.78A267.00 267.00 0 0 0 241.35 405.83Z" fill="#fc684d" stroke="#cc3e27"/><path d="M244.90 396.78L235.11 392.72A277.60 277.60 0 0 1 238.31 385.30L247.98 389.63A267.00 267.00 0 0 0 244.90 396.78Z" fill="#fc684d" stroke="#cc3e27"/><path d="M247.98 389.63L238.31 385.30A277.60 277.60 0 0 1 241.03 379.42L250.59 383.98A267.00 267.00 0 0 0 247.98 389.63Z" fill="#fc684d" stroke="#cc3e27"/><path d="M250.59 383.98L241.03 379.42A277.60 277.60 0 0 1 243.30 374.77L252.78 379.51A267.00 267.00 0 0 0 250.59 383.98Z" fill="#fc684d" stroke="#cc3e27"/><path d="M252.78 379.51L243.30 374.77A277.60 277.60 0 0 1 245.18 371.08L254.59 375.96A267.00 267.00 0 0 0 252.78 379.51Z" fill="#fc684d" stroke="#cc3e27"/><path d="M254.59 375.96L245.18 371.08A277.60 277.60 0 0 1 246.72 368.15L256.07 373.14A267.00 267.00 0 0 0 254.59 375.96Z" fill="#fc684d" stroke="#cc3e27"/><path d="M256.07 373.14L246.72 368.15A277.60 277.60 0 0 1 247.64 366.44L256.96 371.50A267.00 267.00 0 0 0 256.07 373.14Z" fill="#c9c9c9" stroke="#8f8f8f"/><path d="M256.96 371.50L247.64 366.44A277.60 277.60 0 0 1 251.68 359.26L260.84 364.59A267.00 267.00 0 0 0 256.96 371.50Z" fill="#fc674d" stroke="#cc3d27"/><path d="M260.84 364.59L251.68 359.26A277.60 277.60 0 0 1 254.65 354.27L263.70 359.79A267.00 267.00 0 0 0 260.84 364.59Z" fill="#fc674d" stroke="#cc3d27"/><path d="M263.70 359.79L254.65 354.27A277.60 277.60 0 0 1 257.21 350.15L266.16 355.83A267.00 267.00 0 0 0 263.70 359.79Z" fill="#c9c9c9" stroke="#8f8f8f"/><path d="M266.16 355.83L257.21 350.15A277.60 277.60 0 0 1 259.58 346.49L268.44 352.31A267.00 267.00 0 0 0 266.16 355.83Z" fill="#fc664d" stroke="#cc3c27"/><path d="M269.47 350.76L260.65 344.88A277.60 277.60 0 0 1 289.24 308.87L296.97 316.13A267.00 267.00 0 0 0 269.47 350.76Z" fill="#fc664d" stroke="#cc3c27"/><path d="M296.97 316.13L289.24 308.87A277.60 277.60 0 0 1 305.85 292.60L312.94 300.48A267.00 267.00 0 0 0 296.97 316.13Z" fill="#fc654d" stroke="#cc3c27"/><path d="M312.94 300.48L305.85 292.60A277.60 277.60 0 0 1 309.33 289.52L316.29 297.52A267.00 267.00 0 0 0 312.94 300.48Z" fill="#fc644d" stroke="#cc3b27"/><path d="M316.29 297.52L309.33 289.52A277.60 277.60 0 0 1 312.51 286.80L319.35 294.90A267.00 267.00 0 0 0 316.29 297.52Z" fill="#fc644d" stroke="#cc3b27"/><path d="M319.35 294.90L312.51 286.80A277.60 277.60 0 0 1 315.40 284.39L322.13 292.58A267.00 267.00 0 0 0 319.35 294.90Z" fill="#fc644d" stroke="#cc3b27"/><path d="M322.13 292.58L315.40 284.39A277.60 277.60 0 0 1 318.03 282.25L324.66 290.53A267.00 267.00 0 0 0 322.13 292.58Z" fill="#fc644d" stroke="#cc3b27"/><path d="M324.66 290.53L318.03 282.25A277.60 277.60 0 0 1 321.46 279.55L327.95 287.93A267.00 267.00 0 0 0 324.66 290.53Z" fill="#c9c9c9" stroke="#8f8f8f"/><path d="M260.65 344.88L251.83 338.99A288.20 288.20 0 0 1 281.51 301.61L289.24 308.87A277.60 277.60 0 0 0 260.65 344.88Z" fill="#fc664d" stroke="#cc3c27"/><path d="M289.24 308.87L281.51 301.61A288.20 288.20 0 0 1 293.22 289.85L300.51 297.54A277.60 277.60 0 0 0 289.24 308.87Z" fill="#fc654d" stroke="#cc3c27"/><path d="M300.51 297.54L293.22 289.85A288.20 288.20 0 0 1 296.51 286.77L303.69 294.57A277.60 277.60 0 0 0 300.51 297.54Z" fill="#fc644d" stroke="#cc3b27"/><path d="M303.69 294.57L296.51 286.77A288.20 288.20 0 0 1 299.62 283.95L306.68 291.86A277.60 277.60 0 0 0 303.69 294.57Z" fill="#fc644d" stroke="#cc3b27"/><path d="M306.68 291.86L299.62 283.95A288.20 288.20 0 0 1 302.54 281.38L309.50 289.38A277.60 277.60 0 0 0 306.68 291.86Z" fill="#fc644d" stroke="#cc3b27"/><path d="M309.50 289.38L302.54 281.38A288.20 288.20 0 0 1 305.30 279.01L312.15 287.10A277.60 277.60 0 0 0 309.50 289.38Z" fill="#fc644d" stroke="#cc3b27"/><path d="M312.15 287.10L305.30 279.01A288.20 288.20 0 0 1 307.88 276.85L314.64 285.02A277.60 277.60 0 0 0 312.15 287.10Z" fill="#fc644d" stroke="#cc3b27"/><path d="M314.64 285.02L307.88 276.85A288.20 288.20 0 0 1 310.31 274.86L316.98 283.10A277.60 277.60 0 0 0 314.64 285.02Z" fill="#fc644d" stroke="#cc3b27"/><path d="M316.98 283.10L310.31 274.86A288.20 288.20 0 0 1 312.59 273.04L319.17 281.35A277.60 277.60 0 0 0 316.98 283.10Z" fill="#fc644d" stroke="#cc3b27"/><path d="M251.83 338.99L243.18 333.22A298.60 298.60 0 0 1 286.06 282.30L293.22 289.85A288.20 288.20 0 0 0 251.83 338.99Z" fill="#fc664d" stroke="#cc3c27"/><path d="M293.22 289.85L286.06 282.30A298.60 298.60 0 0 1 289.47 279.11L296.51 286.77A288.20 288.20 0 0 0 293.22 289.85Z" fill="#fc644d" stroke="#cc3b27"/><path d="M296.51 286.77L289.47 279.11A298.60 298.60 0 0 1 292.69 276.20L299.62 283.95A288.20 288.20 0 0 0 296.51 286.77Z" fill="#fc644d" stroke="#cc3b27"/><path d="M299.62 283.95L292.69 276.20A298.60 298.60 0 0 1 295.72 273.53L302.54 281.38A288.20 288.20 0 0 0 299.62 283.95Z" fill="#fc644d" stroke="#cc3b27"/><path d="M302.54 281.38L295.72 273.53A298.60 298.60 0 0 1 298.57 271.08L305.30 279.01A288.20 288.20 0 0 0 302.54 281.38Z" fill="#fc644d" stroke="#cc3b27"/><path d="M305.30 279.01L298.57 271.08A298.60 298.60 0 0 1 301.25 268.84L307.88 276.85A288.20 288.20 0 0 0 305.30 279.01Z" fill="#fc644d" stroke="#cc3b27"/><path d="M307.88 276.85L301.25 268.84A298.60 298.60 0 0 1 303.77 266.78L310.31 274.86A288.20 288.20 0 0 0 307.88 276.85Z" fill="#fc644d" stroke="#cc3b27"/><path d="M310.31 274.86L303.77 266.78A298.60 298.60 0 0 1 306.13 264.89L312.59 273.04A288.20 288.20 0 0 0 310.31 274.86Z" fill="#fc644d" stroke="#cc3b27"/><path d="M328.32 287.64L321.84 279.26A277.60 277.60 0 0 1 334.77 269.85L340.75 278.59A267.00 267.00 0 0 0 328.32 287.64Z" fill="#fc644d" stroke="#cc3b27"/><path d="M340.75 278.59L334.77 269.85A277.60 277.60 0 0 1 349.46 260.45L354.88 269.56A267.00 267.00 0 0 0 340.75 278.59Z" fill="#fc634d" stroke="#cc3b27"/><path d="M354.88 269.56L349.46 260.45A277.60 277.60 0 0 1 353.64 258.01L358.91 267.21A267.00 267.00 0 0 0 354.88 269.56Z" fill="#c9c9c9" stroke="#8f8f8f"/><path d="M322.22 278.96L315.76 270.56A288.20 288.20 0 0 1 324.24 264.27L330.40 272.90A277.60 277.60 0 0 0 322.22 278.96Z" fill="#fc644d" stroke="#cc3b27"/><path d="M330.40 272.90L324.24 264.27A288.20 288.20 0 0 1 328.78 261.10L334.77 269.85A277.60 277.60 0 0 0 330.40 272.90Z" fill="#fc644d" stroke="#cc3b27"/><path d="M335.17 269.58L329.19 260.82A288.20 288.20 0 0 1 335.48 256.65L341.22 265.56A277.60 277.60 0 0 0 335.17 269.58Z" fill="#fc634d" stroke="#cc3b27"/><path d="M341.22 265.56L335.48 256.65A288.20 288.20 0 0 1 341.87 252.64L347.38 261.70A277.60 277.60 0 0 0 341.22 265.56Z" fill="#fc634d" stroke="#cc3b27"/><path d="M347.38 261.70L341.87 252.64A288.20 288.20 0 0 1 344.03 251.35L349.46 260.45A277.60 277.60 0 0 0 347.38 261.70Z" fill="#fc634d" stroke="#cc3b27"/><path d="M316.15 270.26L309.82 262.00A298.60 298.60 0 0 1 314.82 258.25L320.98 266.63A288.20 288.20 0 0 0 316.15 270.26Z" fill="#fc644d" stroke="#cc3b27"/><path d="M320.98 266.63L314.82 258.25A298.60 298.60 0 0 1 318.20 255.81L324.24 264.27A288.20 288.20 0 0 0 320.98 266.63Z" fill="#c9c9c9" stroke="#8f8f8f"/><path d="M329.19 260.82L323.33 252.23A298.60 298.60 0 0 1 328.10 249.04L333.79 257.74A288.20 288.20 0 0 0 329.19 260.82Z" fill="#fc634d" stroke="#cc3b27"/><path d="M333.79 257.74L328.10 249.04A298.60 298.60 0 0 1 332.92 245.95L338.45 254.76A288.20 288.20 0 0 0 333.79 257.74Z" fill="#fc634d" stroke="#cc3b27"/><path d="M338.45 254.76L332.92 245.95A298.60 298.60 0 0 1 336.47 243.76L341.87 252.64A288.20 288.20 0 0 0 338.45 254.76Z" fill="#c9c9c9" stroke="#8f8f8f"/><path d="M359.31 266.98L354.06 257.77A277.60 277.60 0 0 1 374.28 247.31L378.76 256.92A267.00 267.00 0 0 0 359.31 266.98Z" fill="#fc634d" stroke="#cc3b27"/><path d="M378.76 256.92L374.28 247.31A277.60 277.60 0 0 1 379.58 244.91L383.85 254.61A267.00 267.00 0 0 0 378.76 256.92Z" fill="#fc624d" stroke="#cc3a27"/><path d="M383.85 254.61L379.58 244.91A277.60 277.60 0 0 1 381.80 243.94L385.99 253.67A267.00 267.00 0 0 0 383.85 254.61Z" fill="#c9c9c9" stroke="#8f8f8f"/><path d="M354.90 257.29L349.68 248.06A288.20 288.20 0 0 1 358.97 243.03L363.85 252.44A277.60 277.60 0 0 0 354.90 257.29Z" fill="#fc634d" stroke="#cc3b27"/><path d="M363.85 252.44L358.97 243.03A288.20 288.20 0 0 1 369.80 237.70L374.28 247.31A277.60 277.60 0 0 0 363.85 252.44Z" fill="#fc634d" stroke="#cc3b27"/><path d="M374.72 247.10L370.26 237.49A288.20 288.20 0 0 1 375.30 235.21L379.58 244.91A277.60 277.60 0 0 0 374.72 247.10Z" fill="#c9c9c9" stroke="#8f8f8f"/><path d="M350.56 247.57L345.47 238.50A298.60 298.60 0 0 1 353.26 234.28L358.08 243.50A288.20 288.20 0 0 0 350.56 247.57Z" fill="#fc634d" stroke="#cc3b27"/><path d="M358.08 243.50L353.26 234.28A298.60 298.60 0 0 1 360.23 230.75L364.81 240.09A288.20 288.20 0 0 0 358.08 243.50Z" fill="#fc634d" stroke="#cc3b27"/><path d="M364.81 240.09L360.23 230.75A298.60 298.60 0 0 1 364.93 228.50L369.35 237.92A288.20 288.20 0 0 0 364.81 240.09Z" fill="#c9c9c9" stroke="#8f8f8f"/><path d="M388.56 252.58L384.47 242.80A277.60 277.60 0 0 1 396.20 238.21L399.84 248.16A267.00 267.00 0 0 0 388.56 252.58Z" fill="#fc624d" stroke="#cc3a27"/><path d="M399.84 248.16L396.20 238.21A277.60 277.60 0 0 1 403.06 235.80L406.44 245.85A267.00 267.00 0 0 0 399.84 248.16Z" fill="#c9c9c9" stroke="#8f8f8f"/><path d="M384.47 242.80L380.38 233.02A288.20 288.20 0 0 1 386.44 230.57L390.31 240.44A277.60 277.60 0 0 0 384.47 242.80Z" fill="#fc624d" stroke="#cc3a27"/><path d="M390.31 240.44L386.44 230.57A288.20 288.20 0 0 1 392.09 228.43L395.75 238.37A277.60 277.60 0 0 0 390.31 240.44Z" fill="#fc624d" stroke="#cc3a27"/><path d="M380.38 233.02L376.37 223.43A298.60 298.60 0 0 1 382.65 220.89L386.44 230.57A288.20 288.20 0 0 0 380.38 233.02Z" fill="#fc624d" stroke="#cc3a27"/><path d="M406.44 245.85L403.06 235.80A277.60 277.60 0 0 1 413.22 232.59L416.21 242.76A267.00 267.00 0 0 0 406.44 245.85Z" fill="#fc624d" stroke="#cc3a27"/><path d="M416.66 242.63L413.69 232.46A277.60 277.60 0 0 1 416.95 231.53L419.80 241.74A267.00 267.00 0 0 0 416.66 242.63Z" fill="#c9c9c9" stroke="#8f8f8f"/><path d="M403.06 235.80L399.68 225.75A288.20 288.20 0 0 1 405.42 223.89L408.59 234.00A277.60 277.60 0 0 0 403.06 235.80Z" fill="#fc624d" stroke="#cc3a27"/><path d="M409.05 233.86L405.90 223.74A288.20 288.20 0 0 1 410.23 222.43L413.22 232.59A277.60 277.60 0 0 0 409.05 233.86Z" fill="#fc624d" stroke="#cc3a27"/><path d="M399.68 225.75L396.36 215.90A298.60 298.60 0 0 1 400.32 214.59L403.50 224.50A288.20 288.20 0 0 0 399.68 225.75Z" fill="#fc624d" stroke="#cc3a27"/><path d="M420.25 241.61L417.41 231.40A277.60 277.60 0 0 1 420.69 230.51L423.40 240.76A267.00 267.00 0 0 0 420.25 241.61Z" fill="#fc614d" stroke="#cc3927"/><path d="M417.41 231.40L414.58 221.18A288.20 288.20 0 0 1 417.98 220.26L420.69 230.51A277.60 277.60 0 0 0 417.41 231.40Z" fill="#fc614d" stroke="#cc3927"/><path d="M424.75 240.40L422.09 230.14A277.60 277.60 0 0 1 424.91 229.43L427.46 239.72A267.00 267.00 0 0 0 424.75 240.40Z" fill="#c9c9c9" stroke="#8f8f8f"/><path d="M427.46 239.72L424.91 229.43A277.60 277.60 0 0 1 428.68 228.52L431.08 238.85A267.00 267.00 0 0 0 427.46 239.72Z" fill="#fc614d" stroke="#cc3927"/><path d="M424.91 229.43L422.37 219.14A288.20 288.20 0 0 1 426.28 218.20L428.68 228.52A277.60 277.60 0 0 0 424.91 229.43Z" fill="#fc614d" stroke="#cc3927"/><path d="M437.91 237.35L435.78 226.97A277.60 277.60 0 0 1 464.03 222.67L465.08 233.22A267.00 267.00 0 0 0 437.91 237.35Z" fill="#fc614d" stroke="#cc3927"/><path d="M465.08 233.22L464.03 222.67A277.60 277.60 0 0 1 467.32 222.36L468.25 232.92A267.00 267.00 0 0 0 465.08 233.22Z" fill="#fc604d" stroke="#cc3927"/><path d="M468.25 232.92L467.32 222.36A277.60 277.60 0 0 1 470.29 222.12L471.10 232.69A267.00 267.00 0 0 0 468.25 232.92Z" fill="#fc604d" stroke="#cc3927"/><path d="M471.10 232.69L470.29 222.12A277.60 277.60 0 0 1 472.96 221.93L473.68 232.50A267.00 267.00 0 0 0 471.10 232.69Z" fill="#fc604d" stroke="#cc3927"/><path d="M473.68 232.50L472.96 221.93A277.60 277.60 0 0 1 475.37 221.77L475.99 232.36A267.00 267.00 0 0 0 473.68 232.50Z" fill="#fc604d" stroke="#cc3927"/><path d="M475.99 232.36L475.37 221.77A277.60 277.60 0 0 1 477.54 221.66L478.08 232.24A267.00 267.00 0 0 0 475.99 232.36Z" fill="#fc604d" stroke="#cc3927"/><path d="M478.08 232.24L477.54 221.66A277.60 277.60 0 0 1 479.49 221.56L479.95 232.15A267.00 267.00 0 0 0 478.08 232.24Z" fill="#fc604d" stroke="#cc3927"/><path d="M435.78 226.97L433.65 216.59A288.20 288.20 0 0 1 436.97 215.93L438.98 226.33A277.60 277.60 0 0 0 435.78 226.97Z" fill="#fc614d" stroke="#cc3927"/><path d="M438.98 226.33L436.97 215.93A288.20 288.20 0 0 1 440.16 215.33L442.05 225.76A277.60 277.60 0 0 0 438.98 226.33Z" fill="#fc614d" stroke="#cc3927"/><path d="M442.05 225.76L440.16 215.33A288.20 288.20 0 0 1 443.23 214.79L445.01 225.24A277.60 277.60 0 0 0 442.05 225.76Z" fill="#fc614d" stroke="#cc3927"/><path d="M445.01 225.24L443.23 214.79A288.20 288.20 0 0 1 446.18 214.30L447.85 224.77A277.60 277.60 0 0 0 445.01 225.24Z" fill="#fc614d" stroke="#cc3927"/><path d="M447.85 224.77L446.18 214.30A288.20 288.20 0 0 1 449.02 213.86L450.59 224.35A277.60 277.60 0 0 0 447.85 224.77Z" fill="#fc614d" stroke="#cc3927"/><path d="M450.59 224.35L449.02 213.86A288.20 288.20 0 0 1 451.75 213.47L453.22 223.97A277.60 277.60 0 0 0 450.59 224.35Z" fill="#fc614d" stroke="#cc3927"/><path d="M453.22 223.97L451.75 213.47A288.20 288.20 0 0 1 454.38 213.11L455.75 223.62A277.60 277.60 0 0 0 453.22 223.97Z" fill="#fc614d" stroke="#cc3927"/><path d="M455.75 223.62L454.38 213.11A288.20 288.20 0 0 1 456.90 212.80L458.18 223.32A277.60 277.60 0 0 0 455.75 223.62Z" fill="#fc614d" stroke="#cc3927"/><path d="M458.18 223.32L456.90 212.80A288.20 288.20 0 0 1 459.33 212.51L460.51 223.05A277.60 277.60 0 0 0 458.18 223.32Z" fill="#fc614d" stroke="#cc3927"/><path d="M460.51 223.05L459.33 212.51A288.20 288.20 0 0 1 461.65 212.26L462.76 222.80A277.60 277.60 0 0 0 460.51 223.05Z" fill="#fc614d" stroke="#cc3927"/><path d="M462.76 222.80L461.65 212.26A288.20 288.20 0 0 1 463.89 212.03L464.91 222.59A277.60 277.60 0 0 0 462.76 222.80Z" fill="#fc614d" stroke="#cc3927"/><path d="M464.91 222.59L463.89 212.03A288.20 288.20 0 0 1 466.04 211.84L466.98 222.39A277.60 277.60 0 0 0 464.91 222.59Z" fill="#fc614d" stroke="#cc3927"/><path d="M466.98 222.39L466.04 211.84A288.20 288.20 0 0 1 468.11 211.66L468.97 222.22A277.60 277.60 0 0 0 466.98 222.39Z" fill="#fc614d" stroke="#cc3927"/><path d="M468.97 222.22L468.11 211.66A288.20 288.20 0 0 1 470.09 211.50L470.88 222.07A277.60 277.60 0 0 0 468.97 222.22Z" fill="#fc614d" stroke="#cc3927"/><path d="M470.88 222.07L470.09 211.50A288.20 288.20 0 0 1 472.00 211.37L472.72 221.94A277.60 277.60 0 0 0 470.88 222.07Z" fill="#fc614d" stroke="#cc3927"/><path d="M472.72 221.94L472.00 211.37A288.20 288.20 0 0 1 478.53 211.00L479.01 221.59A277.60 277.60 0 0 0 472.72 221.94Z" fill="#c9c9c9" stroke="#8f8f8f"/><path d="M495.33 231.93L495.48 221.33A277.60 277.60 0 0 1 512.90 222.12L512.08 232.69A267.00 267.00 0 0 0 495.33 231.93Z" fill="#fc5e4d" stroke="#cc3827"/><path d="M512.08 232.69L512.90 222.12A277.60 277.60 0 0 1 517.72 222.53L516.73 233.08A267.00 267.00 0 0 0 512.08 232.69Z" fill="#fc5e4d" stroke="#cc3827"/><path d="M495.96 221.33L496.13 210.74A288.20 288.20 0 0 1 500.02 210.82L499.71 221.42A277.60 277.60 0 0 0 495.96 221.33Z" fill="#fc5e4d" stroke="#cc3827"/><path d="M499.71 221.42L500.02 210.82A288.20 288.20 0 0 1 503.71 210.95L503.27 221.55A277.60 277.60 0 0 0 499.71 221.42Z" fill="#fc5e4d" stroke="#cc3827"/><path d="M503.27 221.55L503.71 210.95A288.20 288.20 0 0 1 507.22 211.12L506.65 221.71A277.60 277.60 0 0 0 503.27 221.55Z" fill="#fc5e4d" stroke="#cc3827"/><path d="M506.65 221.71L507.22 211.12A288.20 288.20 0 0 1 510.55 211.32L509.86 221.90A277.60 277.60 0 0 0 506.65 221.71Z" fill="#fc5e4d" stroke="#cc3827"/><path d="M509.86 221.90L510.55 211.32A288.20 288.20 0 0 1 513.72 211.55L512.90 222.12A277.60 277.60 0 0 0 509.86 221.90Z" fill="#fc5e4d" stroke="#cc3827"/><path d="M512.90 222.12L513.72 211.55A288.20 288.20 0 0 1 516.72 211.80L515.79 222.36A277.60 277.60 0 0 0 512.90 222.12Z" fill="#fc5e4d" stroke="#cc3827"/><path d="M573.66 244.82L576.92 234.74A277.60 277.60 0 0 1 613.73 249.61L609.06 259.13A267.00 267.00 0 0 0 573.66 244.82Z" fill="#fc5b4c" stroke="#cc3627"/><path d="M609.06 259.13L613.73 249.61A277.60 277.60 0 0 1 618.06 251.78L613.23 261.21A267.00 267.00 0 0 0 609.06 259.13Z" fill="#c9c9c9" stroke="#8f8f8f"/></g></svg>
<div class="center">107.8 MB</div>
<div class="hdr"><span style="left:23.7px">File</span><span style="left:204.4px">Size</span><i style="position:absolute;left:282px;top:8px;width:1px;height:10px;background:#e4e4e4"></i></div>
<div class="row" style="top:214.30px"><svg class="ch" style="left:3.3px" viewBox="0 0 9 9"><path d="M1.5 3.2L4.5 6.0L7.5 3.2" fill="none" stroke="#858585" stroke-width="1.35" stroke-linecap="round" stroke-linejoin="round"/></svg><svg class="ic" style="left:16.2px" viewBox="0 0 12 11"><path d="M0.2 1.5Q0.2 0.4 1.3 0.4H4.0Q4.7 0.4 5.1 0.8L5.8 1.4H10.7Q11.8 1.4 11.8 2.5V5H0.2Z" fill="#2b8bc9"/><rect x="0.2" y="3.0" width="11.6" height="7.6" rx="1.0" fill="#62bdf0"/><rect x="0.2" y="9.5" width="11.6" height="1.1" rx="0.55" fill="#48a8e0"/></svg><span class="n" style="left:36.8px">Documents</span><span class="s">1.94 GB</span></div>
<div class="row alt" style="top:232.15px"><svg class="ch" style="left:14.9px" viewBox="0 0 9 9"><path d="M3.2 1.8L6.0 4.5L3.2 7.2" fill="none" stroke="#858585" stroke-width="1.35" stroke-linecap="round" stroke-linejoin="round"/></svg><svg class="ic" style="left:27.8px" viewBox="0 0 12 11"><path d="M0.2 1.5Q0.2 0.4 1.3 0.4H4.0Q4.7 0.4 5.1 0.8L5.8 1.4H10.7Q11.8 1.4 11.8 2.5V5H0.2Z" fill="#2b8bc9"/><rect x="0.2" y="3.0" width="11.6" height="7.6" rx="1.0" fill="#62bdf0"/><rect x="0.2" y="9.5" width="11.6" height="1.1" rx="0.55" fill="#48a8e0"/></svg><span class="n" style="left:48.4px">archives</span><span class="s">694.3 MB</span></div>
<div class="row" style="top:250.00px"><svg class="ch" style="left:14.9px" viewBox="0 0 9 9"><path d="M3.2 1.8L6.0 4.5L3.2 7.2" fill="none" stroke="#858585" stroke-width="1.35" stroke-linecap="round" stroke-linejoin="round"/></svg><svg class="ic" style="left:27.8px" viewBox="0 0 12 11"><path d="M0.2 1.5Q0.2 0.4 1.3 0.4H4.0Q4.7 0.4 5.1 0.8L5.8 1.4H10.7Q11.8 1.4 11.8 2.5V5H0.2Z" fill="#2b8bc9"/><rect x="0.2" y="3.0" width="11.6" height="7.6" rx="1.0" fill="#62bdf0"/><rect x="0.2" y="9.5" width="11.6" height="1.1" rx="0.55" fill="#48a8e0"/></svg><span class="n" style="left:48.4px">games</span><span class="s">526.9 MB</span></div>
<div class="row alt" style="top:267.85px"><svg class="ch" style="left:14.9px" viewBox="0 0 9 9"><path d="M3.2 1.8L6.0 4.5L3.2 7.2" fill="none" stroke="#858585" stroke-width="1.35" stroke-linecap="round" stroke-linejoin="round"/></svg><svg class="ic" style="left:27.8px" viewBox="0 0 12 11"><path d="M0.2 1.5Q0.2 0.4 1.3 0.4H4.0Q4.7 0.4 5.1 0.8L5.8 1.4H10.7Q11.8 1.4 11.8 2.5V5H0.2Z" fill="#2b8bc9"/><rect x="0.2" y="3.0" width="11.6" height="7.6" rx="1.0" fill="#62bdf0"/><rect x="0.2" y="9.5" width="11.6" height="1.1" rx="0.55" fill="#48a8e0"/></svg><span class="n" style="left:48.4px">apps</span><span class="s">423 MB</span></div>
<div class="row" style="top:285.70px"><svg class="ch" style="left:14.9px" viewBox="0 0 9 9"><path d="M3.2 1.8L6.0 4.5L3.2 7.2" fill="none" stroke="#858585" stroke-width="1.35" stroke-linecap="round" stroke-linejoin="round"/></svg><svg class="ic" style="left:27.8px" viewBox="0 0 12 11"><path d="M0.2 1.5Q0.2 0.4 1.3 0.4H4.0Q4.7 0.4 5.1 0.8L5.8 1.4H10.7Q11.8 1.4 11.8 2.5V5H0.2Z" fill="#2b8bc9"/><rect x="0.2" y="3.0" width="11.6" height="7.6" rx="1.0" fill="#62bdf0"/><rect x="0.2" y="9.5" width="11.6" height="1.1" rx="0.55" fill="#48a8e0"/></svg><span class="n" style="left:48.4px">events</span><span class="s">183.5 MB</span></div>
<div class="row alt" style="top:303.55px"><svg class="ch" style="left:14.9px" viewBox="0 0 9 9"><path d="M1.5 3.2L4.5 6.0L7.5 3.2" fill="none" stroke="#858585" stroke-width="1.35" stroke-linecap="round" stroke-linejoin="round"/></svg><svg class="ic" style="left:27.8px" viewBox="0 0 12 11"><path d="M0.2 1.5Q0.2 0.4 1.3 0.4H4.0Q4.7 0.4 5.1 0.8L5.8 1.4H10.7Q11.8 1.4 11.8 2.5V5H0.2Z" fill="#2b8bc9"/><rect x="0.2" y="3.0" width="11.6" height="7.6" rx="1.0" fill="#62bdf0"/><rect x="0.2" y="9.5" width="11.6" height="1.1" rx="0.55" fill="#48a8e0"/></svg><span class="n" style="left:48.4px">website</span><span class="s">107.8 MB</span></div>
<div class="row" style="top:321.40px"><svg class="ch" style="left:26.4px" viewBox="0 0 9 9"><path d="M1.5 3.2L4.5 6.0L7.5 3.2" fill="none" stroke="#858585" stroke-width="1.35" stroke-linecap="round" stroke-linejoin="round"/></svg><svg class="ic" style="left:39.3px" viewBox="0 0 12 11"><path d="M0.2 1.5Q0.2 0.4 1.3 0.4H4.0Q4.7 0.4 5.1 0.8L5.8 1.4H10.7Q11.8 1.4 11.8 2.5V5H0.2Z" fill="#2b8bc9"/><rect x="0.2" y="3.0" width="11.6" height="7.6" rx="1.0" fill="#62bdf0"/><rect x="0.2" y="9.5" width="11.6" height="1.1" rx="0.55" fill="#48a8e0"/></svg><span class="n" style="left:59.9px">backup</span><span class="s">107.8 MB</span></div>
<div class="row alt" style="top:339.25px"><svg class="ch" style="left:38.0px" viewBox="0 0 9 9"><path d="M1.5 3.2L4.5 6.0L7.5 3.2" fill="none" stroke="#858585" stroke-width="1.35" stroke-linecap="round" stroke-linejoin="round"/></svg><svg class="ic" style="left:50.9px" viewBox="0 0 12 11"><path d="M0.2 1.5Q0.2 0.4 1.3 0.4H4.0Q4.7 0.4 5.1 0.8L5.8 1.4H10.7Q11.8 1.4 11.8 2.5V5H0.2Z" fill="#2b8bc9"/><rect x="0.2" y="3.0" width="11.6" height="7.6" rx="1.0" fill="#62bdf0"/><rect x="0.2" y="9.5" width="11.6" height="1.1" rx="0.55" fill="#48a8e0"/></svg><span class="n" style="left:71.5px">wordpress</span><span class="s">89.1 MB</span></div>
<div class="row" style="top:357.10px"><svg class="ch" style="left:49.5px" viewBox="0 0 9 9"><path d="M3.2 1.8L6.0 4.5L3.2 7.2" fill="none" stroke="#858585" stroke-width="1.35" stroke-linecap="round" stroke-linejoin="round"/></svg><svg class="ic" style="left:62.4px" viewBox="0 0 12 11"><path d="M0.2 1.5Q0.2 0.4 1.3 0.4H4.0Q4.7 0.4 5.1 0.8L5.8 1.4H10.7Q11.8 1.4 11.8 2.5V5H0.2Z" fill="#2b8bc9"/><rect x="0.2" y="3.0" width="11.6" height="7.6" rx="1.0" fill="#62bdf0"/><rect x="0.2" y="9.5" width="11.6" height="1.1" rx="0.55" fill="#48a8e0"/></svg><span class="n" style="left:83.0px;letter-spacing:0.37px">wp-content</span><span class="s">89 MB</span></div>
<div class="row alt" style="top:374.95px"><svg class="ic" style="left:62.4px" viewBox="0 0 12 11"><path d="M2 0H7.5L10 2.5V11H2Z" fill="#f3f3f3"/><path d="M7.5 0L10 2.5H7.5Z" fill="#e2e2e2"/></svg><span class="n" style="left:83.0px">.DS_Store</span><span class="s">6 KB</span></div>
<div class="row" style="top:392.80px"><svg class="ch" style="left:38.0px" viewBox="0 0 9 9"><path d="M3.2 1.8L6.0 4.5L3.2 7.2" fill="none" stroke="#858585" stroke-width="1.35" stroke-linecap="round" stroke-linejoin="round"/></svg><svg class="ic" style="left:50.9px" viewBox="0 0 12 11"><path d="M0.2 1.5Q0.2 0.4 1.3 0.4H4.0Q4.7 0.4 5.1 0.8L5.8 1.4H10.7Q11.8 1.4 11.8 2.5V5H0.2Z" fill="#2b8bc9"/><rect x="0.2" y="3.0" width="11.6" height="7.6" rx="1.0" fill="#62bdf0"/><rect x="0.2" y="9.5" width="11.6" height="1.1" rx="0.55" fill="#48a8e0"/></svg><span class="n" style="left:71.5px">underword</span><span class="s">13.1 MB</span></div>
<div class="row alt" style="top:410.65px"><svg class="ic" style="left:50.9px" viewBox="0 0 12 11"><path d="M2 0H7.5L10 2.5V11H2Z" fill="#f4f4f4"/><path d="M6 0.3V6.2" stroke="#8a8a8a" stroke-width="1" stroke-dasharray="1.3 0.7"/></svg><span class="n" style="left:71.5px">wordpress_a_2021-...</span><span class="s">3 MB</span></div>
<div class="row" style="top:428.50px"><svg class="ch" style="left:38.0px" viewBox="0 0 9 9"><path d="M3.2 1.8L6.0 4.5L3.2 7.2" fill="none" stroke="#858585" stroke-width="1.35" stroke-linecap="round" stroke-linejoin="round"/></svg><svg class="ic" style="left:50.9px" viewBox="0 0 12 11"><path d="M0.2 1.5Q0.2 0.4 1.3 0.4H4.0Q4.7 0.4 5.1 0.8L5.8 1.4H10.7Q11.8 1.4 11.8 2.5V5H0.2Z" fill="#2b8bc9"/><rect x="0.2" y="3.0" width="11.6" height="7.6" rx="1.0" fill="#62bdf0"/><rect x="0.2" y="9.5" width="11.6" height="1.1" rx="0.55" fill="#48a8e0"/></svg><span class="n" style="left:71.5px">apps</span><span class="s">2.7 MB</span></div>
<div class="row alt" style="top:446.35px"><svg class="ic" style="left:50.9px" viewBox="0 0 12 11"><path d="M2 0H7.5L10 2.5V11H2Z" fill="#f6f6f8"/><rect x="3.6" y="2.6" width="1.9" height="4.4" rx="0.5" fill="#2f62d6"/><rect x="6.5" y="2.6" width="1.9" height="4.4" rx="0.5" fill="#3b6fe0"/></svg><span class="n" style="left:71.5px">wgstats.php</span><span class="s">9 KB</span></div>
<div class="row" style="top:464.20px"><svg class="ch" style="left:38.0px" viewBox="0 0 9 9"><path d="M3.2 1.8L6.0 4.5L3.2 7.2" fill="none" stroke="#858585" stroke-width="1.35" stroke-linecap="round" stroke-linejoin="round"/></svg><svg class="ic" style="left:50.9px" viewBox="0 0 12 11"><path d="M0.2 1.5Q0.2 0.4 1.3 0.4H4.0Q4.7 0.4 5.1 0.8L5.8 1.4H10.7Q11.8 1.4 11.8 2.5V5H0.2Z" fill="#2b8bc9"/><rect x="0.2" y="3.0" width="11.6" height="7.6" rx="1.0" fill="#62bdf0"/><rect x="0.2" y="9.5" width="11.6" height="1.1" rx="0.55" fill="#48a8e0"/></svg><span class="n" style="left:71.5px">witgui</span><span class="s">2 KB</span></div>
<div class="row alt" style="top:482.05px"><svg class="ic" style="left:50.9px" viewBox="0 0 12 11"><path d="M2 0H7.5L10 2.5V11H2Z" fill="#f6f6f8"/><rect x="3.6" y="2.6" width="1.9" height="4.4" rx="0.5" fill="#2f62d6"/><rect x="6.5" y="2.6" width="1.9" height="4.4" rx="0.5" fill="#3b6fe0"/></svg><span class="n" style="left:71.5px">download.php</span><span class="s">1 KB</span></div>
<div class="row" style="top:499.90px"><svg class="ic" style="left:39.3px" viewBox="0 0 12 11"><path d="M2 0H7.5L10 2.5V11H2Z" fill="#f3f3f3"/><path d="M7.5 0L10 2.5H7.5Z" fill="#e2e2e2"/></svg><span class="n" style="left:59.9px">.DS_Store</span><span class="s">6 KB</span></div>
<div class="row alt" style="top:517.75px"><svg class="ic" style="left:39.3px" viewBox="0 0 12 11"><path d="M2 0H7.5L10 2.5V11H2Z" fill="#f1f1f1"/><path d="M3.2 2.2H7M3.2 4H8.6M3.2 5.8H8.6M3.2 7.6H8.6" stroke="#d0d0d0" stroke-width="0.9"/></svg><span class="n" style="left:59.9px">captcha</span><span class="s">446 bytes</span></div>
<div class="row" style="top:535.60px"><svg class="ic" style="left:39.3px" viewBox="0 0 12 11"><path d="M2 0H7.5L10 2.5V11H2Z" fill="#f1f1f1"/><path d="M3.2 2.2H7M3.2 4H8.6M3.2 5.8H8.6M3.2 7.6H8.6" stroke="#d0d0d0" stroke-width="0.9"/></svg><span class="n" style="left:59.9px">htaccess</span><span class="s">334 bytes</span></div>
<div class="row alt" style="top:553.45px"><svg class="ch" style="left:14.9px" viewBox="0 0 9 9"><path d="M3.2 1.8L6.0 4.5L3.2 7.2" fill="none" stroke="#858585" stroke-width="1.35" stroke-linecap="round" stroke-linejoin="round"/></svg><svg class="ic" style="left:27.8px" viewBox="0 0 12 11"><path d="M0.2 1.5Q0.2 0.4 1.3 0.4H4.0Q4.7 0.4 5.1 0.8L5.8 1.4H10.7Q11.8 1.4 11.8 2.5V5H0.2Z" fill="#2b8bc9"/><rect x="0.2" y="3.0" width="11.6" height="7.6" rx="1.0" fill="#62bdf0"/><rect x="0.2" y="9.5" width="11.6" height="1.1" rx="0.55" fill="#48a8e0"/></svg><span class="n" style="left:48.4px">drum sheets</span><span class="s">2.1 MB</span></div>
<div class="row" style="top:571.30px"><svg class="ch" style="left:14.9px" viewBox="0 0 9 9"><path d="M3.2 1.8L6.0 4.5L3.2 7.2" fill="none" stroke="#858585" stroke-width="1.35" stroke-linecap="round" stroke-linejoin="round"/></svg><svg class="ic" style="left:27.8px" viewBox="0 0 12 11"><path d="M6 0.4L8.2 3.4L6.9 3.4L9.6 6.6L7.6 6.6L11.2 9.4H0.8L4.4 6.6L2.4 6.6L5.1 3.4L3.8 3.4Z" fill="#bdbdbd"/><rect x="1" y="8.6" width="10" height="1.8" rx="0.6" fill="#a9a9a9"/></svg><span class="n" style="left:48.4px">customer support email...</span><span class="s">201 KB</span></div>
<div class="row alt" style="top:589.15px"><svg class="ch" style="left:14.9px" viewBox="0 0 9 9"><path d="M3.2 1.8L6.0 4.5L3.2 7.2" fill="none" stroke="#858585" stroke-width="1.35" stroke-linecap="round" stroke-linejoin="round"/></svg><svg class="ic" style="left:27.8px" viewBox="0 0 12 11"><path d="M0.2 1.5Q0.2 0.4 1.3 0.4H4.0Q4.7 0.4 5.1 0.8L5.8 1.4H10.7Q11.8 1.4 11.8 2.5V5H0.2Z" fill="#2b8bc9"/><rect x="0.2" y="3.0" width="11.6" height="7.6" rx="1.0" fill="#62bdf0"/><rect x="0.2" y="9.5" width="11.6" height="1.1" rx="0.55" fill="#48a8e0"/></svg><span class="n" style="left:48.4px;letter-spacing:0.19px">nodejs-nginx-mariadb-s...</span><span class="s">171 KB</span></div>
<div class="row" style="top:607.00px"><svg class="ic" style="left:27.8px" viewBox="0 0 12 11"><path d="M2 0H7.5L10 2.5V11H2Z" fill="#f3f3f3"/><path d="M7.5 0L10 2.5H7.5Z" fill="#e2e2e2"/></svg><span class="n" style="left:48.4px">.DS_Store</span><span class="s">23 KB</span></div>
<div class="row alt" style="top:624.85px"><svg class="ic" style="left:27.8px" viewBox="0 0 12 11"><path d="M2 0H7.5L10 2.5V11H2Z" fill="#f1f1f1"/><path d="M3.2 2.2H7M3.2 4H8.6M3.2 5.8H8.6M3.2 7.6H8.6" stroke="#d0d0d0" stroke-width="0.9"/></svg><span class="n" style="left:48.4px">customer support email...</span><span class="s">9 KB</span></div>
<div class="row" style="top:642.70px"><svg class="ic" style="left:27.8px" viewBox="0 0 12 11"><path d="M2 0H7.5L10 2.5V11H2Z" fill="#f3f3f3"/><path d="M7.5 0L10 2.5H7.5Z" fill="#e2e2e2"/></svg><span class="n" style="left:48.4px">.localized</span><span class="s">Zero KB</span></div>
<div class="row alt" style="top:660.55px"></div>
<div class="row" style="top:678.40px"></div>
<div class="row alt" style="top:696.25px"></div>
<div class="row" style="top:714.10px"></div>
<div class="row alt" style="top:731.95px"></div>
<div class="row" style="top:749.80px"></div>
<div class="row alt" style="top:767.65px"></div>
<div class="row" style="top:785.50px"></div>
<div class="row alt" style="top:803.35px"></div>
</body></html>
